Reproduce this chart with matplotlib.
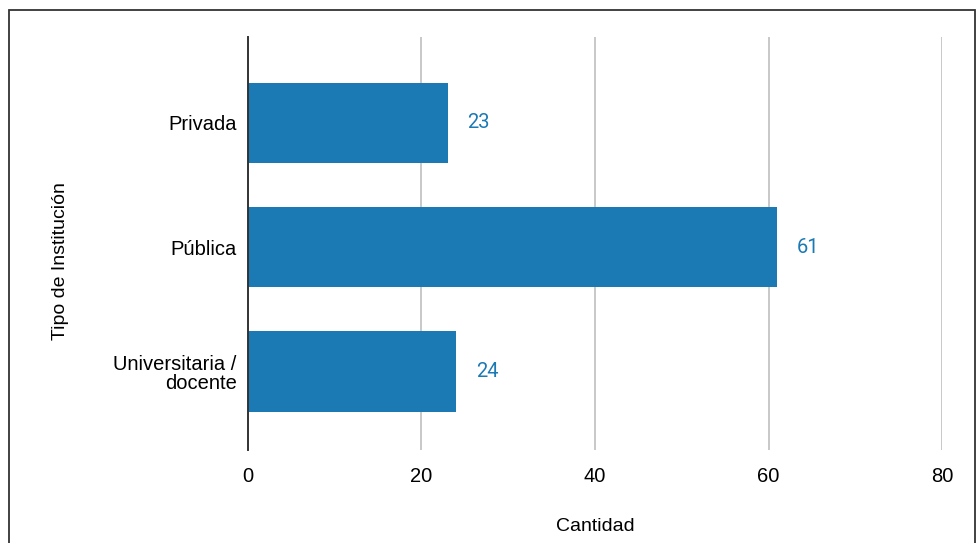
import matplotlib.pyplot as plt
from matplotlib.patches import Rectangle

# Cantidad de respuestas por tipo de institución
categorias = ['Privada', 'Pública', 'Universitaria /\ndocente']
cantidades = [23, 61, 24]
ticks_x = [0, 20, 40, 60, 80]

azul = '#1b79b4'

plt.rcParams['font.family'] = ['Liberation Sans', 'DejaVu Sans']

fig = plt.figure(figsize=(9.77, 5.43), dpi=100)
ax = fig.add_axes([0.2538, 0.1713, 0.7104, 0.7606])

pos = range(len(categorias))
ax.barh(pos, cantidades, height=0.645, color=azul, zorder=3)

for i, v in zip(pos, cantidades):
    ax.annotate(str(v), (v, i), xytext=(14, 0), textcoords='offset points',
                va='center', ha='left', color=azul, fontsize=14.5, family='Roboto')

ax.set_xlim(0, 80)
ax.set_ylim(2.63, -0.69)
ax.set_xticks(ticks_x)
ax.set_yticks(list(pos))
ax.set_yticklabels(categorias, fontsize=14.5, linespacing=1.05)
ax.tick_params(axis='x', labelsize=14.5, length=0, pad=12)
ax.tick_params(axis='y', length=0, pad=8)

ax.grid(axis='x', color='#c8c8c8', linewidth=1.4, zorder=0)
for s in ['top', 'right', 'bottom']:
    ax.spines[s].set_visible(False)
ax.spines['left'].set_color('#333333')
ax.spines['left'].set_linewidth(1.4)
ax.spines['left'].set_zorder(4)

ax.set_xlabel('Cantidad', fontsize=14, labelpad=23)
ax.set_ylabel('Tipo de Institución', fontsize=14)
ax.yaxis.set_label_coords(-0.258, 0.458)

# marco exterior
fig.patches.append(Rectangle((9 / 977, -0.05), 966 / 977, 1.05 - 10 / 543,
                             transform=fig.transFigure, fill=False,
                             edgecolor='#333333', linewidth=1.3))

fig.savefig('out.png', dpi=100)
